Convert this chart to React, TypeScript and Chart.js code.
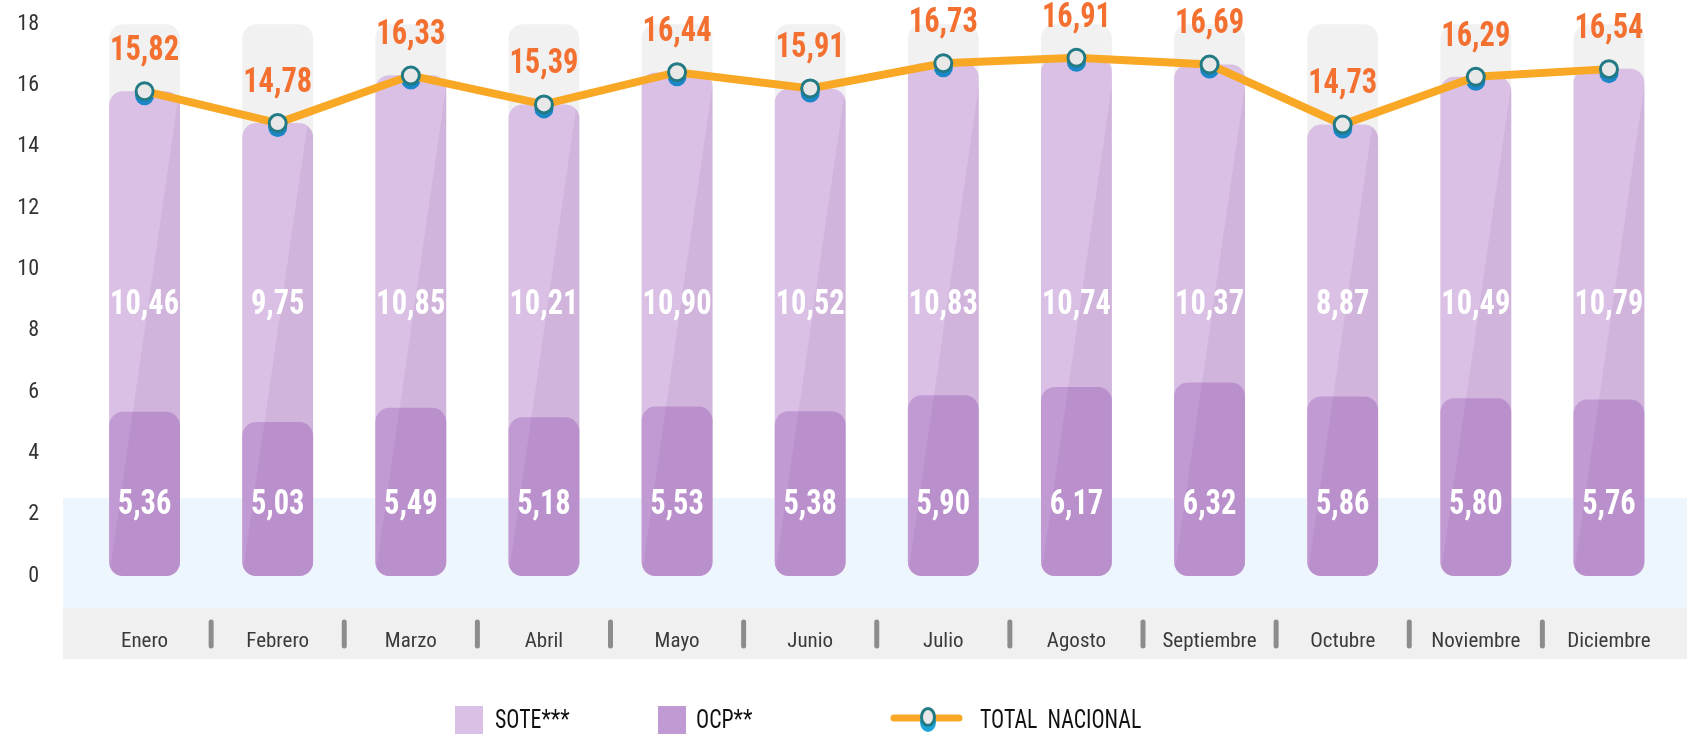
import React, { useEffect, useRef } from "react";
import { Chart, registerables } from "chart.js";

Chart.register(...registerables);

const months = ["Enero", "Febrero", "Marzo", "Abril", "Mayo", "Junio", "Julio", "Agosto", "Septiembre", "Octubre", "Noviembre", "Diciembre"];
const sote = [10.46, 9.75, 10.85, 10.21, 10.9, 10.52, 10.83, 10.74, 10.37, 8.87, 10.49, 10.79];
const ocp = [5.36, 5.03, 5.49, 5.18, 5.53, 5.38, 5.9, 6.17, 6.32, 5.86, 5.8, 5.76];
const total = [15.82, 14.78, 16.33, 15.39, 16.44, 15.91, 16.73, 16.91, 16.69, 14.73, 16.29, 16.54];
const yTicks = [0, 2, 4, 6, 8, 10, 12, 14, 16, 18];
const bgMax = 18;

const fmt = (v: number) => v.toFixed(2).replace(".", ",");

const C_SOTE = "#DAC0E4";
const C_OCP = "#C199D3";
const C_LINE = "#F9A826";
const C_ORANGE = "#F37030";

function detectFont(): { family: string; stretch: string; scaleX: number } {
  const c = document.createElement("canvas").getContext("2d") as CanvasRenderingContext2D;
  const sample = "Septiembre 10,46 TOTAL";
  const fams = ["Roboto", "Open Sans", "Noto Sans", "DejaVu Sans", "Liberation Sans", "Inter", "Lato"];
  for (const f of fams) {
    c.font = `normal normal 20px "${f}"`;
    const w1 = c.measureText(sample).width;
    c.font = `normal condensed 20px "${f}"`;
    const w2 = c.measureText(sample).width;
    if (w2 < w1 * 0.93) return { family: `"${f}", sans-serif`, stretch: "condensed", scaleX: 1 };
  }
  return { family: '"Roboto", sans-serif', stretch: "", scaleX: 0.82 };
}

function makePlugin(FF: { family: string; stretch: string; scaleX: number }) {
  const font = (w: string, size: number) => `normal ${w} ${FF.stretch} ${size}px ${FF.family}`;
  const text = (ctx: CanvasRenderingContext2D, s: string, x: number, y: number, align: CanvasTextAlign, sx: number) => {
    ctx.save();
    ctx.translate(x, y);
    ctx.scale(FF.scaleX * sx, 1);
    ctx.textAlign = align;
    ctx.fillText(s, 0, 0);
    ctx.restore();
  };
  return {
    id: "decor",
    beforeDraw(chart: any) {
      const { ctx, chartArea, scales } = chart;
      const y = scales.y;
      const W = chart.width;
      ctx.save();
      const bandTop = y.getPixelForValue(2.55);
      ctx.fillStyle = "#EEF6FD";
      ctx.fillRect(63, bandTop, W - 63, chartArea.bottom - bandTop);
      ctx.fillStyle = "#F0F0F0";
      ctx.fillRect(63, chartArea.bottom, W - 63, 51);
      const x = scales.x;
      ctx.strokeStyle = "#8C8C8E";
      ctx.lineWidth = 5;
      ctx.lineCap = "round";
      for (let i = 0; i < months.length - 1; i++) {
        const sx = (x.getPixelForValue(i) + x.getPixelForValue(i + 1)) / 2;
        ctx.beginPath();
        ctx.moveTo(sx, chartArea.bottom + 14);
        ctx.lineTo(sx, chartArea.bottom + 38);
        ctx.stroke();
      }
      ctx.restore();
    },
    afterDatasetDraw(chart: any, args: any) {
      const { ctx, scales } = chart;
      if (args.index === 2) {
        const meta = chart.getDatasetMeta(1);
        const y16 = scales.y.getPixelForValue(16);
        meta.data.forEach((bar: any) => {
          const w = bar.width;
          const xl = bar.x - w / 2;
          const xr = bar.x + w / 2;
          const top = bar.y;
          const base = bar.base;
          const k = w / (base - y16);
          const xAt = (yy: number) => xr - (yy - y16) * k;
          ctx.save();
          ctx.beginPath();
          ctx.roundRect(xl, top, w, base - top, 14);
          ctx.clip();
          ctx.beginPath();
          ctx.moveTo(xAt(0), 0);
          ctx.lineTo(xAt(base + 2), base + 2);
          ctx.lineTo(xr + 10, base + 2);
          ctx.lineTo(xr + 10, 0);
          ctx.closePath();
          ctx.fillStyle = "rgba(100,40,120,0.075)";
          ctx.fill();
          ctx.restore();
        });
      }
    },
    beforeDatasetDraw(chart: any, args: any) {
      if (args.index === 0) {
        const { ctx } = chart;
        const meta = chart.getDatasetMeta(0);
        ctx.save();
        ctx.fillStyle = "#1B86C8";
        meta.data.forEach((p: any) => {
          ctx.beginPath();
          ctx.arc(p.x, p.y + 4.5, 9.5, 0, Math.PI * 2);
          ctx.fill();
        });
        ctx.restore();
      }
    },
    afterDatasetsDraw(chart: any) {
      const { ctx, scales } = chart;
      const y = scales.y;
      const lineMeta = chart.getDatasetMeta(0);
      const barMeta = chart.getDatasetMeta(2);
      ctx.save();
      ctx.textBaseline = "middle";
      ctx.font = font("bold", 35);
      lineMeta.data.forEach((p: any, i: number) => {
        ctx.fillStyle = C_ORANGE;
        text(ctx, fmt(total[i]), p.x, p.y - 40, "center", 0.87);
      });
      barMeta.data.forEach((b: any, i: number) => {
        ctx.fillStyle = "#FFFFFF";
        text(ctx, fmt(sote[i]), b.x, y.getPixelForValue(8.85), "center", 0.87);
        text(ctx, fmt(ocp[i]), b.x, y.getPixelForValue(2.31), "center", 0.87);
      });
      ctx.restore();
    },
    afterDraw(chart: any) {
      const { ctx } = chart;
      ctx.save();
      ctx.textBaseline = "middle";
      ctx.font = font("normal", 26);
      ctx.fillStyle = C_SOTE;
      ctx.fillRect(455, 706, 28, 30);
      ctx.fillStyle = C_OCP;
      ctx.fillRect(658, 706, 28, 30);
      ctx.fillStyle = "#111";
      text(ctx, chart.data.datasets[1].label, 495, 721, "left", 0.84);
      text(ctx, chart.data.datasets[2].label, 696, 721, "left", 0.84);
      ctx.strokeStyle = C_LINE;
      ctx.lineWidth = 7;
      ctx.lineCap = "round";
      ctx.beginPath();
      ctx.moveTo(894, 718);
      ctx.lineTo(959, 718);
      ctx.stroke();
      ctx.fillStyle = "#1BA3D8";
      ctx.beginPath();
      ctx.ellipse(928, 722, 8, 10, 0, 0, Math.PI * 2);
      ctx.fill();
      ctx.fillStyle = "#E8E8E8";
      ctx.strokeStyle = "#217A84";
      ctx.lineWidth = 3;
      ctx.beginPath();
      ctx.ellipse(928, 717, 6.5, 8.5, 0, 0, Math.PI * 2);
      ctx.fill();
      ctx.stroke();
      ctx.fillStyle = "#111";
      text(ctx, chart.data.datasets[0].label, 980, 721, "left", 0.84);
      ctx.restore();
    },
  };
}

export default function App() {
  const ref = useRef<HTMLCanvasElement | null>(null);
  useEffect(() => {
    document.body.style.margin = "0";
    if (!ref.current) return;
    const FF = detectFont();
    const tickWeight = FF.stretch ? `normal ${FF.stretch}` : "normal";
    const chart = new Chart(ref.current, {
      type: "bar",
      data: {
        labels: months,
        datasets: [
          {
            type: "line",
            label: "TOTAL  NACIONAL",
            data: total,
            borderColor: C_LINE,
            borderWidth: 8,
            pointRadius: 8.5,
            pointBorderWidth: 3,
            pointBackgroundColor: "#E8E8E8",
            pointBorderColor: "#217A84",
            tension: 0,
            order: 0,
          } as any,
          {
            label: "SOTE***",
            data: sote.map((v, i) => v + ocp[i]),
            backgroundColor: C_SOTE,
            borderRadius: 14,
            borderSkipped: false,
            grouped: false,
            order: 2,
          },
          {
            label: "OCP**",
            data: ocp,
            backgroundColor: C_OCP,
            borderRadius: 14,
            borderSkipped: false,
            grouped: false,
            order: 1,
          },
          {
            label: "bg",
            data: months.map(() => bgMax),
            backgroundColor: "#F1F1F1",
            borderRadius: 14,
            borderSkipped: false,
            grouped: false,
            order: 3,
          },
        ],
      },
      options: {
        animation: false,
        responsive: true,
        maintainAspectRatio: false,
        layout: { padding: { top: 10, right: 7, left: 0, bottom: 0 } },
        datasets: { bar: { barPercentage: 1, categoryPercentage: 0.532 } },
        plugins: { legend: { display: false }, tooltip: { enabled: false } },
        scales: {
          x: {
            grid: { display: false },
            border: { display: false },
            ticks: {
              color: "#3A3A3A",
              font: { family: FF.family, size: 21, weight: tickWeight },
              padding: 13,
              maxRotation: 0,
              autoSkip: false,
            },
            afterFit(scale: any) {
              scale.height = 126;
              scale.paddingLeft = 0;
              scale.paddingRight = 0;
            },
          },
          y: {
            min: -1.04,
            max: 18.42,
            grid: { display: false },
            border: { display: false },
            afterBuildTicks(axis: any) {
              axis.ticks = yTicks.map((v) => ({ value: v }));
            },
            ticks: {
              color: "#333",
              font: { family: FF.family, size: 22, weight: tickWeight },
              padding: 31,
            },
            afterFit(scale: any) {
              scale.width = 78;
              scale.paddingTop = 0;
              scale.paddingBottom = 0;
            },
          },
        },
      } as any,
      plugins: [makePlugin(FF)],
    });
    return () => chart.destroy();
  }, []);
  return (
    <div style={{ width: "1687px", height: "734px", position: "relative" }}>
      <canvas ref={ref} />
    </div>
  );
}
